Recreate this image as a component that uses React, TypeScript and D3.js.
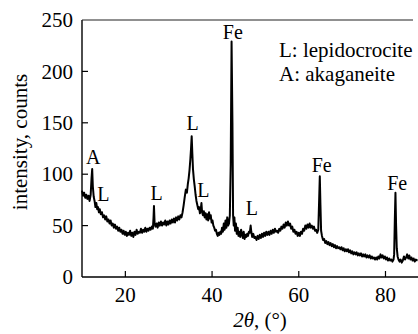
import * as d3 from 'd3';

// 2-theta positions (deg) and counts
const twoTheta = [
  10.0, 10.25, 10.5, 10.75, 11.0, 11.25, 11.5, 11.75, 12.0, 12.2, 12.35, 12.5, 12.7, 12.9, 13.1, 13.3, 13.5, 13.7, 13.9, 14.1,
  14.35, 14.6, 14.85, 15.1, 15.35, 15.6, 15.85, 16.1, 16.35, 16.6, 16.85, 17.1, 17.35, 17.6, 17.85, 18.1, 18.35, 18.6, 18.85, 19.1,
  19.35, 19.6, 19.85, 20.1, 20.35, 20.6, 20.85, 21.1, 21.35, 21.6, 21.85, 22.1, 22.35, 22.6, 22.85, 23.1, 23.35, 23.6, 23.85, 24.1,
  24.35, 24.6, 24.85, 25.1, 25.35, 25.6, 25.85, 26.1, 26.35, 26.5, 26.6, 26.75, 26.95, 27.2, 27.45, 27.7, 27.95, 28.2, 28.45, 28.7,
  28.95, 29.2, 29.45, 29.7, 29.95, 30.2, 30.45, 30.7, 30.95, 31.2, 31.45, 31.7, 31.95, 32.2, 32.45, 32.7, 32.95, 33.2, 33.45, 33.7,
  33.95, 34.2, 34.4, 34.6, 34.8, 35.0, 35.15, 35.3, 35.45, 35.6, 35.8, 36.0, 36.2, 36.4, 36.6, 36.8, 37.0, 37.2, 37.4, 37.55,
  37.7, 37.9, 38.1, 38.3, 38.5, 38.7, 38.9, 39.1, 39.3, 39.5, 39.7, 39.9, 40.1, 40.3, 40.5, 40.7, 40.9, 41.1, 41.3, 41.5,
  41.7, 41.9, 42.1, 42.3, 42.5, 42.7, 42.9, 43.1, 43.3, 43.5, 43.7, 43.9, 44.1, 44.3, 44.5, 44.7, 44.85, 45.0, 45.15, 45.3,
  45.5, 45.7, 45.9, 46.1, 46.3, 46.5, 46.7, 46.9, 47.1, 47.3, 47.5, 47.7, 47.9, 48.1, 48.3, 48.5, 48.7, 48.9, 49.05, 49.25,
  49.5, 49.75, 50.0, 50.25, 50.5, 50.75, 51.0, 51.25, 51.5, 51.75, 52.0, 52.25, 52.5, 52.75, 53.0, 53.25, 53.5, 53.75, 54.0, 54.25,
  54.5, 54.75, 55.0, 55.25, 55.5, 55.75, 56.0, 56.25, 56.5, 56.75, 57.0, 57.25, 57.5, 57.75, 58.0, 58.25, 58.5, 58.75, 59.0, 59.25,
  59.5, 59.75, 60.0, 60.25, 60.5, 60.75, 61.0, 61.25, 61.5, 61.75, 62.0, 62.25, 62.5, 62.75, 63.0, 63.25, 63.5, 63.75, 64.0, 64.25,
  64.5, 64.7, 64.85, 65.0, 65.15, 65.35, 65.6, 65.85, 66.1, 66.35, 66.6, 66.85, 67.1, 67.35, 67.6, 67.85, 68.1, 68.35, 68.6, 68.85,
  69.1, 69.35, 69.6, 69.85, 70.1, 70.35, 70.6, 70.85, 71.1, 71.35, 71.6, 71.85, 72.1, 72.35, 72.6, 72.85, 73.1, 73.35, 73.6, 73.85,
  74.1, 74.35, 74.6, 74.85, 75.1, 75.35, 75.6, 75.85, 76.1, 76.35, 76.6, 76.85, 77.1, 77.35, 77.6, 77.85, 78.1, 78.35, 78.6, 78.85,
  79.1, 79.35, 79.6, 79.85, 80.1, 80.35, 80.6, 80.85, 81.1, 81.35, 81.6, 81.85, 82.0, 82.15, 82.3, 82.45, 82.6, 82.8, 83.0, 83.25,
  83.5, 83.75, 84.0, 84.25, 84.5, 84.75, 85.0, 85.25, 85.5, 85.75, 86.0, 86.25, 86.5, 86.75, 87.0, 87.4,
];
const counts = [
  84, 79, 82, 77, 80, 76, 79, 74, 80, 96, 105, 88, 78, 74, 68, 72, 66, 68, 63, 66,
  61, 63, 58, 60, 56, 59, 54, 56, 52, 55, 50, 52, 48, 51, 47, 49, 45, 48, 44, 46,
  42, 45, 41, 44, 40, 43, 41, 45, 40, 43, 39, 44, 41, 46, 42, 44, 43, 47, 43, 46,
  44, 48, 44, 47, 45, 48, 46, 49, 47, 58, 69, 52, 49, 52, 48, 53, 50, 54, 50, 53,
  51, 55, 50, 54, 51, 55, 52, 56, 53, 57, 53, 58, 55, 59, 56, 60, 58, 63, 70, 78,
  85, 82, 90, 96, 104, 115, 125, 137, 120, 105, 95, 88, 80, 74, 70, 66, 68, 62, 66, 72,
  63, 60, 64, 58, 62, 56, 61, 55, 63, 57, 60, 53, 55, 50, 48, 45, 46, 42, 40, 43,
  41, 44, 42, 48, 44, 52, 46, 55, 48, 58, 50, 52, 60, 110, 229, 150, 60, 50, 58, 45,
  52, 42, 48, 40, 44, 39, 46, 42, 38, 44, 37, 41, 39, 42, 40, 44, 43, 50, 44, 39,
  42, 38, 39, 36, 40, 37, 41, 38, 42, 39, 43, 40, 44, 41, 44, 41, 45, 42, 46, 43,
  47, 44, 45, 43, 47, 45, 49, 47, 51, 48, 53, 50, 54, 50, 52, 47, 49, 44, 46, 42,
  44, 40, 43, 40, 44, 42, 47, 45, 50, 47, 51, 48, 52, 48, 50, 47, 49, 45, 46, 43,
  46, 75, 98, 70, 45, 40, 36, 37, 33, 35, 32, 34, 31, 33, 30, 32, 29, 31, 28, 30,
  28, 29, 27, 29, 26, 28, 25, 27, 25, 27, 24, 26, 23, 25, 22, 24, 22, 24, 21, 23,
  21, 23, 20, 22, 20, 22, 19, 21, 19, 21, 18, 20, 18, 19, 17, 19, 17, 20, 18, 22,
  19, 21, 18, 20, 17, 19, 16, 18, 16, 17, 15, 17, 22, 55, 82, 50, 28, 20, 17, 15,
  17, 14, 16, 20, 17, 19, 22, 18, 21, 17, 19, 16, 18, 15, 17, 16,
];

const xTicks = [20, 40, 60, 80];
const yTicks = [0, 50, 100, 150, 200, 250];

// peak annotations: [2theta, count at label baseline, text]
const peakLabels: [number, number, string][] = [
  [12.6, 110, 'A'],
  [14.9, 74, 'L'],
  [27.2, 75, 'L'],
  [35.5, 143, 'L'],
  [38.0, 78, 'L'],
  [44.8, 232, 'Fe'],
  [49.2, 60, 'L'],
  [65.3, 102, 'Fe'],
  [82.7, 85, 'Fe'],
];
const legendItems = ['L: lepidocrocite', 'A: akaganeite'];

const W = 418;
const H = 334;
const left = 82;
const right = 418;
const top = 20;
const bottom = 277;
const serif = { fontFamily: "'Liberation Serif', 'Times New Roman', serif" };

export default function App() {
  const x = d3.scaleLinear().domain([10, 87.5]).range([left, right]);
  const y = d3.scaleLinear().domain([0, 250]).range([bottom, top]);
  const pts = twoTheta.map((t, i) => [t, counts[i]] as [number, number]);
  const line = d3.line<[number, number]>().x(d => x(d[0])).y(d => y(d[1]));

  return (
    <svg width={W} height={H} style={{ position: 'absolute', left: 0, top: 0, background: '#fff' }}>
      <path d={line(pts) || ''} fill="none" stroke="#000" strokeWidth={2} strokeLinejoin="round" />

      {/* frame */}
      <line x1={left} x2={left} y1={top} y2={bottom} stroke="#000" strokeWidth={1.4} />
      <line x1={left} x2={right} y1={bottom} y2={bottom} stroke="#000" strokeWidth={1.4} />
      <line x1={left} x2={413} y1={top} y2={top} stroke="#222" strokeWidth={1.2} />

      {yTicks.map(v => (
        <g key={'y' + v}>
          {v > 0 && v < 250 && <line x1={left} x2={left + 6} y1={y(v)} y2={y(v)} stroke="#000" strokeWidth={1.2} />}
          <text x={73} y={y(v)} dy="0.34em" textAnchor="end" fontSize={21} style={serif}>{v}</text>
        </g>
      ))}
      {xTicks.map(v => (
        <g key={'x' + v}>
          <line x1={x(v)} x2={x(v)} y1={bottom} y2={bottom - 6} stroke="#000" strokeWidth={1.2} />
          <text x={x(v)} y={302} textAnchor="middle" fontSize={21} style={serif}>{v}</text>
        </g>
      ))}

      <text transform="translate(27,142) rotate(-90)" textAnchor="middle" fontSize={21} style={serif}>
        intensity, counts
      </text>
      <text x={260} y={327} textAnchor="middle" fontSize={21} style={serif}>
        <tspan fontStyle="italic">2θ</tspan>, (°)
      </text>

      {peakLabels.map(([t, c, s], i) => (
        <text key={'p' + i} x={x(t)} y={y(c)} textAnchor="middle" fontSize={20} style={serif}>{s}</text>
      ))}

      {legendItems.map((s, i) => (
        <text key={s} x={279} y={57 + i * 24} fontSize={21} style={serif}>{s}</text>
      ))}
    </svg>
  );
}
